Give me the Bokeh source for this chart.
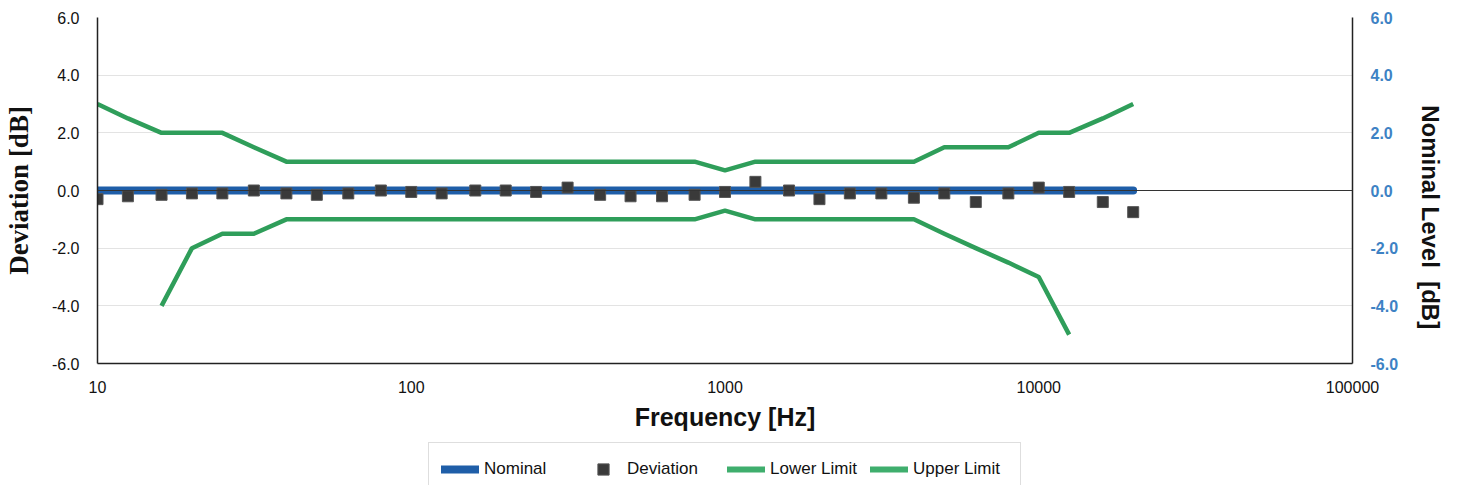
import math
from bokeh.plotting import figure
from bokeh.layouts import column
from bokeh.models import (Range1d, LinearAxis, FixedTicker, PrintfTickFormatter,
                          Span, Legend, LegendItem)
from bokeh.embed import file_html
from bokeh.resources import INLINE

nan = float("nan")

freqs = [10, 12.5, 16, 20, 25, 31.5, 40, 50, 63, 80, 100, 125, 160, 200, 250, 315,
         400, 500, 630, 800, 1000, 1250, 1600, 2000, 2500, 3150, 4000, 5000, 6300,
         8000, 10000, 12500, 16000, 20000]
nominal = [0.0] * 34
deviation = [-0.3, -0.2, -0.15, -0.1, -0.1, 0.0, -0.1, -0.15, -0.1, 0.0, -0.05, -0.1,
             0.0, 0.0, -0.05, 0.1, -0.15, -0.2, -0.2, -0.15, -0.05, 0.3, 0.0, -0.3,
             -0.1, -0.1, -0.25, -0.1, -0.4, -0.1, 0.1, -0.05, -0.4, -0.75]
lower = [nan, nan, -4.0, -2.0, -1.5, -1.5,
         -1.0, -1.0, -1.0, -1.0, -1.0, -1.0, -1.0, -1.0, -1.0, -1.0, -1.0, -1.0, -1.0, -1.0,
         -0.7,
         -1.0, -1.0, -1.0, -1.0, -1.0, -1.0,
         -1.5, -2.0, -2.5, -3.0, -5.0, nan, nan]
upper = [3.0, 2.5, 2.0, 2.0, 2.0, 1.5,
         1.0, 1.0, 1.0, 1.0, 1.0, 1.0, 1.0, 1.0, 1.0, 1.0, 1.0, 1.0, 1.0, 1.0,
         0.7,
         1.0, 1.0, 1.0, 1.0, 1.0, 1.0,
         1.5, 1.5, 1.5, 2.0, 2.0, 2.5, 3.0]
x_ticks = [10, 100, 1000, 10000, 100000]
x_tick_labels = ["10", "100", "1000", "10000", "100000"]
y_ticks = [-6, -4, -2, 0, 2, 4, 6]
legend_labels = ["Nominal", "Deviation", "Lower Limit", "Upper Limit"]

BLUE = "#1f5ea8"
GREEN = "#2f9e5a"
SQ = "#3a3a3a"
NB = "\u00a0"

p = figure(width=1452, height=433, x_axis_type="log",
           x_range=Range1d(10, 100000), y_range=Range1d(-6, 6),
           output_backend="svg", toolbar_location=None,
           min_border_left=91, min_border_right=100,
           min_border_top=17, min_border_bottom=0)
p.extra_y_ranges = {"nom": Range1d(-6, 6)}
p.outline_line_color = None
p.background_fill_color = "white"

# grid
p.xgrid.visible = False
p.ygrid.ticker = FixedTicker(ticks=y_ticks)
p.ygrid.grid_line_color = "#e3e3e3"
p.ygrid.grid_line_width = 1

# x axis
xa = p.xaxis[0]
xa.ticker = FixedTicker(ticks=x_ticks)
xa.major_label_overrides = {t: l for t, l in zip(x_ticks, x_tick_labels)}
xa.major_tick_line_color = None
xa.minor_tick_line_color = None
xa.axis_line_color = "#222222"
xa.axis_line_width = 1.5
xa.major_label_text_font = "Liberation Sans"
xa.major_label_text_font_size = "16px"
xa.major_label_text_color = "#111111"
xa.major_label_standoff = 11
xa.axis_label = "Frequency [Hz]"
xa.axis_label_text_font = "Liberation Sans"
xa.axis_label_text_font_style = "bold"
xa.axis_label_text_font_size = "25px"
xa.axis_label_text_color = "#111111"
xa.axis_label_standoff = 7

# left axis
ya = p.yaxis[0]
ya.ticker = FixedTicker(ticks=y_ticks)
ya.formatter = PrintfTickFormatter(format="%.1f")
ya.major_tick_line_color = None
ya.minor_tick_line_color = None
ya.axis_line_color = "#222222"
ya.axis_line_width = 1.5
ya.major_label_text_font = "Liberation Sans"
ya.major_label_text_font_size = "16px"
ya.major_label_text_color = "#111111"
ya.major_label_standoff = 12
ya.axis_label = "Deviation [dB]"
ya.axis_label_text_font = "Liberation Serif"
ya.axis_label_text_font_style = "bold"
ya.axis_label_text_font_size = "27px"
ya.axis_label_text_color = "#111111"
ya.axis_label_standoff = 15

# right axis
ra = LinearAxis(y_range_name="nom", ticker=FixedTicker(ticks=y_ticks),
                formatter=PrintfTickFormatter(format="%.1f"))
ra.major_tick_line_color = None
ra.minor_tick_line_color = None
ra.axis_line_color = "#222222"
ra.axis_line_width = 1.5
ra.major_label_text_font = "Liberation Sans"
ra.major_label_text_font_size = "16px"
ra.major_label_text_color = "#3d82c4"
ra.major_label_text_font_style = "bold"
ra.major_label_standoff = 12
ra.axis_label = NB * 8 + "Nominal Level" + NB * 2 + "[dB]"
ra.axis_label_text_font = "Liberation Sans"
ra.axis_label_text_font_style = "bold"
ra.axis_label_text_font_size = "24px"
ra.axis_label_text_color = "#111111"
ra.axis_label_standoff = 16
p.add_layout(ra, "right")

# zero line (secondary horizontal axis)
p.add_layout(Span(location=0, dimension="width", line_color="#333333", line_width=1.2,
                  y_range_name="nom"))

# series
nom_style = dict(line_color=BLUE, line_width=8, line_cap="round")
dev_style = dict(marker="square", size=11, fill_color=SQ, line_color="#555555", line_width=1)
lim_style = dict(line_color=GREEN, line_width=4.5, line_join="round")

p.line(freqs, nominal, y_range_name="nom", **nom_style)
p.scatter(freqs, deviation, **dev_style)
p.line(freqs, lower, **lim_style)
p.line(freqs, upper, **lim_style)

# legend strip below the chart (its glyphs sit outside the visible range)
q = figure(width=1452, height=52, x_range=Range1d(0, 1), y_range=Range1d(0, 1),
           output_backend="svg", toolbar_location=None,
           x_axis_location=None, y_axis_location=None,
           min_border_left=0, min_border_right=0, min_border_top=0, min_border_bottom=0)
q.outline_line_color = None
q.xgrid.visible = False
q.ygrid.visible = False
hidden = [-10, -9]
g1 = q.line(hidden, hidden, **nom_style)
g2 = q.scatter(hidden, hidden, marker="square", size=15, fill_color=SQ,
               line_color="#555555", line_width=1)
g3 = q.line(hidden, hidden, line_color="#3fae6d", line_width=6, line_cap="round")
g4 = q.line(hidden, hidden, line_color="#3fae6d", line_width=6, line_cap="round")

lg = Legend(items=[LegendItem(label=l, renderers=[r])
                   for l, r in zip(legend_labels, [g1, g2, g3, g4])])
lg.orientation = "horizontal"
lg.location = (331, -11)
lg.padding = 12
lg.margin = 0
lg.spacing = 5
lg.glyph_width = 38
lg.glyph_height = 28
lg.label_width = 95
lg.label_height = 28
lg.label_standoff = 5
lg.label_text_font = "Liberation Sans"
lg.label_text_font_size = "17px"
lg.label_text_color = "#111111"
lg.border_line_color = "#bdbdbd"
lg.border_line_width = 1.5
lg.background_fill_alpha = 1.0
q.add_layout(lg, "center")

layout = column(p, q, spacing=0)
open("out.html", "w").write(file_html(layout, INLINE))
